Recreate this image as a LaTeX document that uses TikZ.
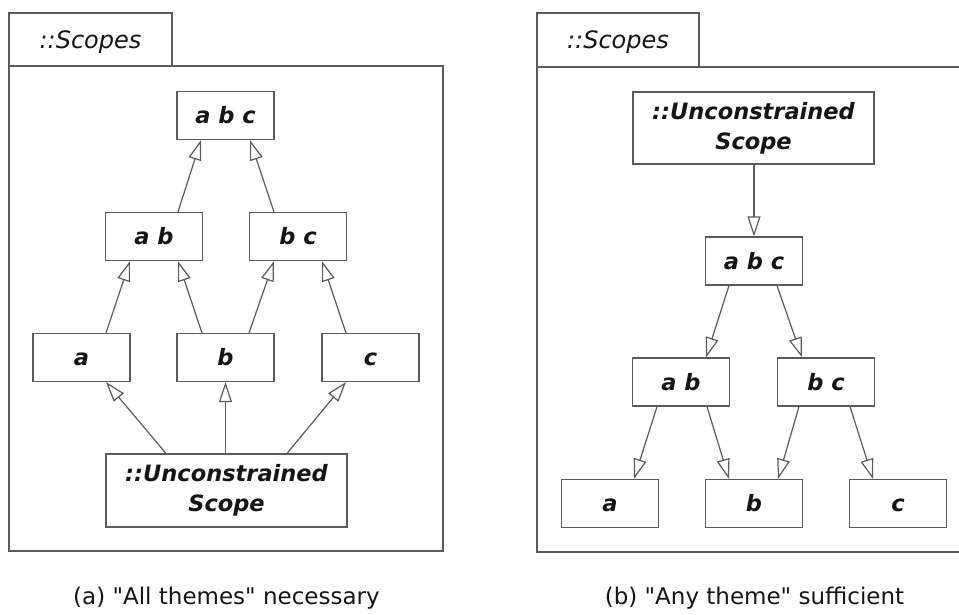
\documentclass[tikz,border=0pt]{standalone}
\usepackage{fontspec}
\setmainfont[Ligatures=TeXOff]{DejaVu Sans}
\usetikzlibrary{arrows.meta}
\definecolor{linegray}{HTML}{5A5A5A}
\definecolor{inkc}{HTML}{151515}
\tikzset{
  boxbase/.style={draw=linegray, line width=1.2pt, fill=white, text=inkc,
    inner sep=0pt, align=center,
    font=\fontsize{22.5}{30}\selectfont\bfseries\itshape},
  box/.style={boxbase, minimum width=97pt, minimum height=48pt,
    text height=16.5pt, text depth=0pt},
  bigbox/.style={boxbase, minimum width=241pt, minimum height=73pt},
  frame/.style={draw=linegray, line width=1.2pt},
  tablabel/.style={text=inkc, anchor=base, inner sep=0pt,
    font=\fontsize{24}{28}\selectfont\itshape},
  caption/.style={text=inkc, anchor=base, inner sep=0pt,
    font=\fontsize{23}{28}\selectfont},
  gen/.style={draw=linegray, line width=1.2pt,
    -{Triangle[open, length=20pt, width=13pt]}}
}
\begin{document}
\begin{tikzpicture}[x=1pt, y=-1pt]
\useasboundingbox (0,0) rectangle (959,614);

% ---------- left panel ----------
\draw[frame] (9,13) rectangle (172,66);
\draw[frame] (9,66) rectangle (443,551);
\node[tablabel] (ltab) at (90.5,48) {::Scopes};

\node[box] (Labc) at (225.5,115.5) {a b c};
\node[box] (Lab)  at (154,236.5) {a b};
\node[box] (Lbc)  at (298,236.5) {b c};
\node[box] (La)   at (81.5,357.5) {a};
\node[box] (Lb)   at (225.5,357.5) {b};
\node[box] (Lc)   at (370.5,357.5) {c};
\node[bigbox] (LU) at (226.5,490.5) {::Unconstrained\\Scope};

\draw[gen] ([xshift=24pt]Lab.north) -- ([xshift=-24.5pt]Labc.south);
\draw[gen] ([xshift=-24pt]Lbc.north) -- ([xshift=24.5pt]Labc.south);
\draw[gen] ([xshift=24.5pt]La.north) -- ([xshift=-24pt]Lab.south);
\draw[gen] ([xshift=-23.5pt]Lb.north) -- ([xshift=24pt]Lab.south);
\draw[gen] ([xshift=23.5pt]Lb.north) -- ([xshift=-24pt]Lbc.south);
\draw[gen] ([xshift=-24.5pt]Lc.north) -- ([xshift=24pt]Lbc.south);
\draw[gen] ([xshift=-60.5pt]LU.north) -- ([xshift=24.5pt]La.south);
\draw[gen] (LU.north -| Lb.south) -- (Lb.south);
\draw[gen] ([xshift=60.5pt]LU.north) -- ([xshift=-24.5pt]Lc.south);

\node[caption] (capa) at (226.5,604) {(a) "All themes" necessary};

% ---------- right panel ----------
\draw[frame] (537,13) rectangle (699,67);
\draw[frame] (960,67) -- (537,67) -- (537,552) -- (960,552);
\node[tablabel] (rtab) at (618,48) {::Scopes};

\node[bigbox, minimum height=72pt] (RU) at (753.5,128) {::Unconstrained\\Scope};
\node[box] (Rabc) at (754,261) {a b c};
\node[box] (Rab)  at (681,382) {a b};
\node[box] (Rbc)  at (826,382) {b c};
\node[box] (Ra)   at (610,503.5) {a};
\node[box] (Rb)   at (754,503.5) {b};
\node[box] (Rc)   at (898,503.5) {c};

\draw[gen] (RU.south -| Rabc.north) -- (Rabc.north);
\draw[gen] ([xshift=-25pt]Rabc.south) -- ([xshift=25pt]Rab.north);
\draw[gen] ([xshift=23pt]Rabc.south) -- ([xshift=-24pt]Rbc.north);
\draw[gen] ([xshift=-24pt]Rab.south) -- ([xshift=24pt]Ra.north);
\draw[gen] ([xshift=26pt]Rab.south) -- ([xshift=-25pt]Rb.north);
\draw[gen] ([xshift=-27pt]Rbc.south) -- ([xshift=24pt]Rb.north);
\draw[gen] ([xshift=24pt]Rbc.south) -- ([xshift=-25pt]Rc.north);

\node[caption] (capb) at (754.5,604) {(b) "Any theme" sufficient};
\end{tikzpicture}
\end{document}
